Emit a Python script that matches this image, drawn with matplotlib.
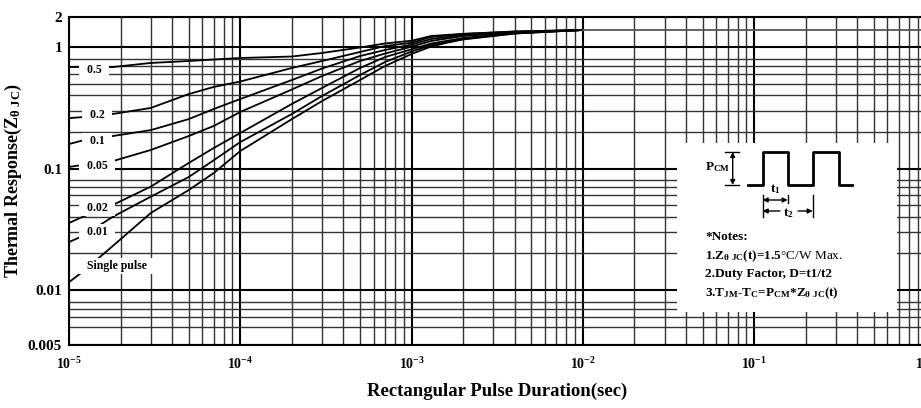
import matplotlib
matplotlib.use('Agg')
import matplotlib.pyplot as plt
from matplotlib.ticker import FixedLocator, LogLocator, NullFormatter

plt.rcParams['font.family'] = ['Liberation Serif', 'DejaVu Serif']
plt.rcParams['font.weight'] = 'bold'
plt.rcParams['axes.labelweight'] = 'bold'
plt.rcParams['mathtext.fontset'] = 'custom'
plt.rcParams['mathtext.rm'] = 'Liberation Serif:bold'
plt.rcParams['mathtext.it'] = 'Liberation Serif:bold'
plt.rcParams['mathtext.bf'] = 'Liberation Serif:bold'
plt.rcParams['mathtext.sf'] = 'Liberation Serif:weight=normal'

# pulse duration (sec)
t = [1e-5, 1.2e-5, 1.8e-5, 3e-5, 5e-5, 7e-5, 1e-4, 2e-4, 3e-4, 5e-4,
     7e-4, 1e-3, 1.3e-3, 2e-3, 4e-3, 1e-2]

# thermal response per duty factor
z_05 = [0.684, 0.684, 0.684, 0.739, 0.767, 0.789, 0.812, 0.835, 0.893, 0.991,
        1.069, 1.127, 1.232, 1.284, 1.341, 1.380]
z_02 = [0.260, 0.265, 0.281, 0.315, 0.410, 0.469, 0.520, 0.672, 0.767, 0.910,
        1.019, 1.085, 1.209, 1.279, 1.341, 1.380]
z_01 = [0.159, 0.170, 0.185, 0.207, 0.255, 0.309, 0.373, 0.535, 0.665, 0.843,
        0.945, 1.048, 1.164, 1.255, 1.329, 1.380]
z_005 = [0.103, 0.107, 0.115, 0.142, 0.185, 0.224, 0.292, 0.447, 0.577, 0.767,
         0.884, 1.006, 1.121, 1.232, 1.316, 1.380]
z_002 = [0.0356, 0.0400, 0.0501, 0.0709, 0.111, 0.1475, 0.196, 0.340, 0.460,
         0.672, 0.827, 0.957, 1.068, 1.186, 1.304, 1.380]
z_001 = [0.0248, 0.0278, 0.0400, 0.0586, 0.0851, 0.117, 0.165, 0.281, 0.395,
         0.588, 0.753, 0.918, 1.039, 1.153, 1.292, 1.380]
z_single = [0.0116, 0.0141, 0.0230, 0.0430, 0.0665, 0.0918, 0.1393, 0.255,
            0.359, 0.535, 0.698, 0.876, 1.010, 1.164, 1.292, 1.380]

# flat continuation after 10 ms
t_flat = [1e-2, 1.0]
z_flat = [1.38, 1.38]

curves = [z_05, z_02, z_01, z_005, z_002, z_001, z_single]
labels = ['0.5', '0.2', '0.1', '0.05', '0.02', '0.01', 'Single pulse']
label_t = [1.40e-5, 1.46e-5, 1.46e-5, 1.46e-5, 1.46e-5, 1.46e-5, 1.90e-5]
label_z = [0.647, 0.276, 0.168, 0.105, 0.0473, 0.0300, 0.0158]

y_lo, y_hi = 0.003526, 1.766
y_ticks = [y_lo, 0.01, 0.1, 1, y_hi]
y_ticklabels = ['0.005', '0.01', '0.1', '1', '2']
y_minor = [0.005, 0.006, 0.007, 0.008,
           0.02, 0.03, 0.04, 0.05, 0.06, 0.07, 0.08,
           0.2, 0.3, 0.4, 0.5, 0.6, 0.7, 0.8]
x_ticks = [1e-5, 1e-4, 1e-3, 1e-2, 1e-1, 1]
x_ticklabels = ['10$^{-5}$', '10$^{-4}$', '10$^{-3}$', '10$^{-2}$', '10$^{-1}$', '10$^{0}$']

fig = plt.figure(figsize=(9.21, 4.08), dpi=100)
ax = fig.add_axes([69 / 921, 63 / 408, 856.5 / 921, 328 / 408])
ax.set_xscale('log')
ax.set_yscale('log')
ax.set_xlim(1e-5, 1)
ax.set_ylim(y_lo, y_hi)

ax.xaxis.set_major_locator(FixedLocator(x_ticks))
ax.xaxis.set_minor_locator(LogLocator(base=10, subs=range(2, 10), numticks=50))
ax.xaxis.set_minor_formatter(NullFormatter())
ax.set_xticklabels(x_ticklabels, fontsize=10)
ax.yaxis.set_major_locator(FixedLocator(y_ticks))
ax.yaxis.set_minor_locator(FixedLocator(y_minor))
ax.yaxis.set_minor_formatter(NullFormatter())
ax.set_yticklabels(y_ticklabels, fontsize=11)
ax.tick_params(which='both', length=0)
ax.tick_params(axis='x', pad=8)
ax.tick_params(axis='y', pad=5)

ax.set_axisbelow(True)
ax.grid(which='major', color='black', lw=1.5)
ax.grid(which='minor', color='#333333', lw=1.0)
for s in ax.spines.values():
    s.set_color('black')
    s.set_linewidth(1.5)

for z in curves:
    ax.plot(t, z, color='black', lw=1.3, zorder=3)
ax.plot(t_flat, z_flat, color='#555555', lw=1.3, zorder=3)

for lx, lz, s in zip(label_t, label_z, labels):
    ax.text(lx, lz, '  ' + s + '  ', ha='center', va='center', fontsize=8.5,
            zorder=5, bbox=dict(facecolor='white', edgecolor='none',
                                boxstyle='square,pad=0.15'))

ax.set_xlabel('Rectangular Pulse Duration(sec)', fontsize=13.5, labelpad=8)
ax.set_ylabel('Thermal Response(Z$_{\\theta\\ \\mathrm{JC}}$)', fontsize=13, labelpad=3)

# notes box
axn = fig.add_axes([677 / 921, 96 / 408, 220 / 921, 169 / 408])
axn.set_xlim(0, 220)
axn.set_ylim(0, 169)
axn.axis('off')
axn.add_patch(plt.Rectangle((0, 0), 220, 169, facecolor='white', edgecolor='none'))

wave_u = [71, 85.7, 85.7, 110.7, 110.7, 135.7, 135.7, 162.3, 162.3, 174.7]
wave_v = [127, 127, 160, 160, 127, 127, 160, 160, 127, 127]
axn.plot(wave_u, wave_v, color='black', lw=2)

axn.plot([48, 62], [160, 160], color='black', lw=1)
axn.plot([48, 62], [127, 127], color='black', lw=1)
arr = dict(arrowstyle='<|-|>', color='black', lw=1, mutation_scale=7,
           shrinkA=0, shrinkB=0)
axn.annotate('', xy=(55.7, 127), xytext=(55.7, 160), arrowprops=arr)
axn.text(40.5, 145, 'P$_{\\mathrm{CM}}$', ha='center', va='center', fontsize=9.5)

axn.plot([85.7, 85.7], [95, 117], color='black', lw=1)
axn.plot([110.7, 110.7], [109, 117], color='black', lw=1)
axn.plot([135.7, 135.7], [95, 117], color='black', lw=1)
axn.annotate('', xy=(85.7, 112), xytext=(110.7, 112), arrowprops=arr)
axn.text(98, 123, 't$_1$', ha='center', va='center', fontsize=9.5)
one = dict(arrowstyle='-|>', color='black', lw=1, mutation_scale=7,
           shrinkA=0, shrinkB=0)
axn.annotate('', xy=(85.7, 101), xytext=(103, 101), arrowprops=one)
axn.annotate('', xy=(135.7, 101), xytext=(121, 101), arrowprops=one)
axn.text(111, 99, 't$_2$', ha='center', va='center', fontsize=9.5)

notes = ['*Notes:',
         '1.Z$_{\\theta\\ \\mathrm{JC}}$(t)=1.5$\\mathsf{\u00b0C/W\\ Max.}$',
         '2.Duty Factor, D=t1/t2',
         '3.T$_{\\mathrm{JM}}$-T$_{\\mathrm{C}}$=P$_{\\mathrm{CM}}$*Z$_{\\theta\\ \\mathrm{JC}}$(t)']
for v, s in zip([75, 56, 38, 19], notes):
    axn.text(28, v, s, ha='left', va='center', fontsize=9.5)

fig.savefig('out.png', dpi=100)
